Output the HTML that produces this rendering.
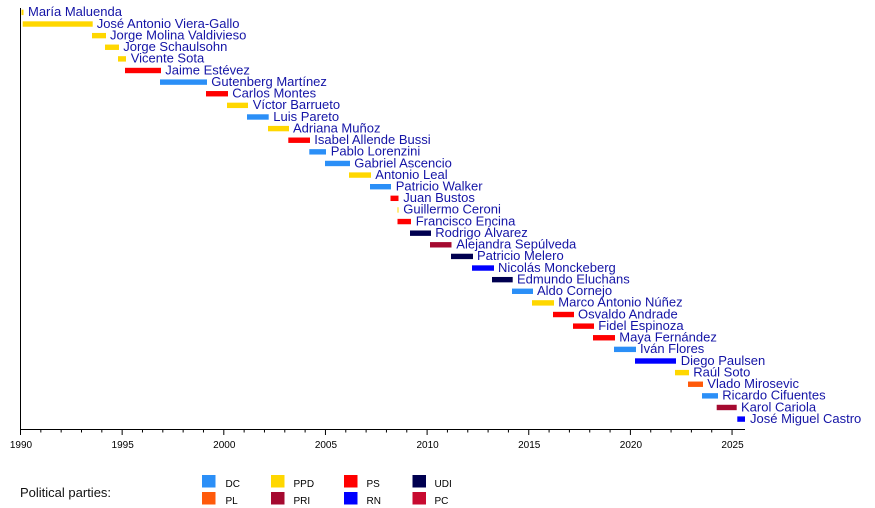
<!DOCTYPE html>
<html><head><meta charset="utf-8"><style>
html,body{margin:0;padding:0;background:#fff;}
svg{display:block;}
.n{font-family:"Liberation Sans",Arial,sans-serif;font-size:13px;fill:#1414a6;}
.y{font-family:"Liberation Sans",Arial,sans-serif;font-size:10px;fill:#000;text-anchor:middle;}
.l{font-family:"Liberation Sans",Arial,sans-serif;font-size:10px;fill:#000;}
</style></head><body>
<svg width="875" height="508" viewBox="0 0 875 508" xmlns="http://www.w3.org/2000/svg">
<rect width="875" height="508" fill="#fff"/>
<g id="bars"></g>
<g id="axis" stroke="#000" stroke-width="1"></g>
<g id="labels"></g>
<g id="years"></g>
<text x="20" y="497" font-family="Liberation Sans, Arial, sans-serif" font-size="13" fill="#111">Political parties:</text>
<rect x="202" y="475" width="13.5" height="12.5" fill="#2b8ff7"/><text class="l" x="225.5" y="487">DC</text>
<rect x="202" y="492" width="13.5" height="12.5" fill="#ff5a0a"/><text class="l" x="225.5" y="504">PL</text>
<rect x="271" y="475" width="13.5" height="12.5" fill="#ffd700"/><text class="l" x="293.5" y="487">PPD</text>
<rect x="271" y="492" width="13.5" height="12.5" fill="#a50a30"/><text class="l" x="293.5" y="504">PRI</text>
<rect x="344" y="475" width="13.5" height="12.5" fill="#ff0000"/><text class="l" x="366.5" y="487">PS</text>
<rect x="344" y="492" width="13.5" height="12.5" fill="#0000ff"/><text class="l" x="366.5" y="504">RN</text>
<rect x="412.5" y="475" width="13.5" height="12.5" fill="#000050"/><text class="l" x="434.5" y="487">UDI</text>
<rect x="412.5" y="492" width="13.5" height="12.5" fill="#c80a30"/><text class="l" x="434.5" y="504">PC</text>
</svg>
<script>
(function(){
var C={DC:"#2b8ff7",PL:"#ff5a0a",PPD:"#ffd700",PRI:"#a50a30",PS:"#ff0000",RN:"#0000ff",UDI:"#000050",PC:"#c80a30"};
var D=[
["María Maluenda",21.5,23.5,"PPD",28],
["José Antonio Viera-Gallo",22.7,92.7,"PPD",96.7],
["Jorge Molina Valdivieso",92,106,"PPD",110],
["Jorge Schaulsohn",105,119,"PPD",123.3],
["Vicente Sota",118,126,"PPD",130.7],
["Jaime Estévez",125,161,"PS",165.3],
["Gutenberg Martínez",160,207,"DC",211.3],
["Carlos Montes",206,228,"PS",232.3],
["Víctor Barrueto",227,248,"PPD",252.7],
["Luis Pareto",247,268.7,"DC",273.3],
["Adriana Muñoz",268,289,"PPD",293],
["Isabel Allende Bussi",288.3,310,"PS",314.3],
["Pablo Lorenzini",309.3,326,"DC",330.7],
["Gabriel Ascencio",325,350,"DC",354.3],
["Antonio Leal",349,371,"PPD",375.3],
["Patricio Walker",370,391,"DC",395.7],
["Juan Bustos",390.5,398.5,"PS",403.3],
["Guillermo Ceroni",397.5,398.5,"PPD",403.3],
["Francisco Encina",397.5,411,"PS",415.7],
["Rodrigo Álvarez",410,431,"UDI",435.3],
["Alejandra Sepúlveda",430,451.5,"PRI",456.3],
["Patricio Melero",451,473,"UDI",477],
["Nicolás Monckeberg",472,494,"RN",498],
["Edmundo Eluchans",492,512.7,"UDI",517],
["Aldo Cornejo",512,533,"DC",537],
["Marco Antonio Núñez",532,554,"PPD",558.3],
["Osvaldo Andrade",553,574,"PS",578],
["Fidel Espinoza",573,594,"PS",598.3],
["Maya Fernández",593,615,"PS",619.3],
["Iván Flores",614,636,"DC",640],
["Diego Paulsen",635,676,"RN",680.7],
["Raúl Soto",675,689,"PPD",693.3],
["Vlado Mirosevic",688,703,"PL",707.3],
["Ricardo Cifuentes",702,718,"DC",722.3],
["Karol Cariola",716.7,736.7,"PRI",741],
["José Miguel Castro",737.3,745,"RN",750]
];
var ns="http://www.w3.org/2000/svg";
var bars=document.getElementById("bars"),labels=document.getElementById("labels"),axis=document.getElementById("axis"),years=document.getElementById("years");
function el(t,a,p,txt){var e=document.createElementNS(ns,t);for(var k in a)e.setAttribute(k,a[k]);if(txt)e.textContent=txt;p.appendChild(e);return e;}
for(var i=0;i<D.length;i++){
 var d=D[i],c=12.4+i*11.62;
 el("rect",{x:d[1],y:(c-2.7).toFixed(2),width:(d[2]-d[1]).toFixed(2),height:5.4,fill:C[d[3]]},bars);
 el("text",{"class":"n",x:d[4],y:(c+3.8).toFixed(2)},labels,d[0]);
}
el("line",{x1:20.5,y1:8,x2:20.5,y2:429.5},axis);
el("line",{x1:20,y1:429.5,x2:745,y2:429.5},axis);
for(var yr=1990;yr<=2025;yr++){
 var x=20.5+(yr-1990)*20.33;
 var maj=(yr%5===0);
 el("line",{x1:x.toFixed(2),y1:429.5,x2:x.toFixed(2),y2:maj?435:432.5},axis);
 if(maj) el("text",{"class":"y",x:(x+0.5).toFixed(2),y:448},years,String(yr));
}
})();
</script>
</body></html>
